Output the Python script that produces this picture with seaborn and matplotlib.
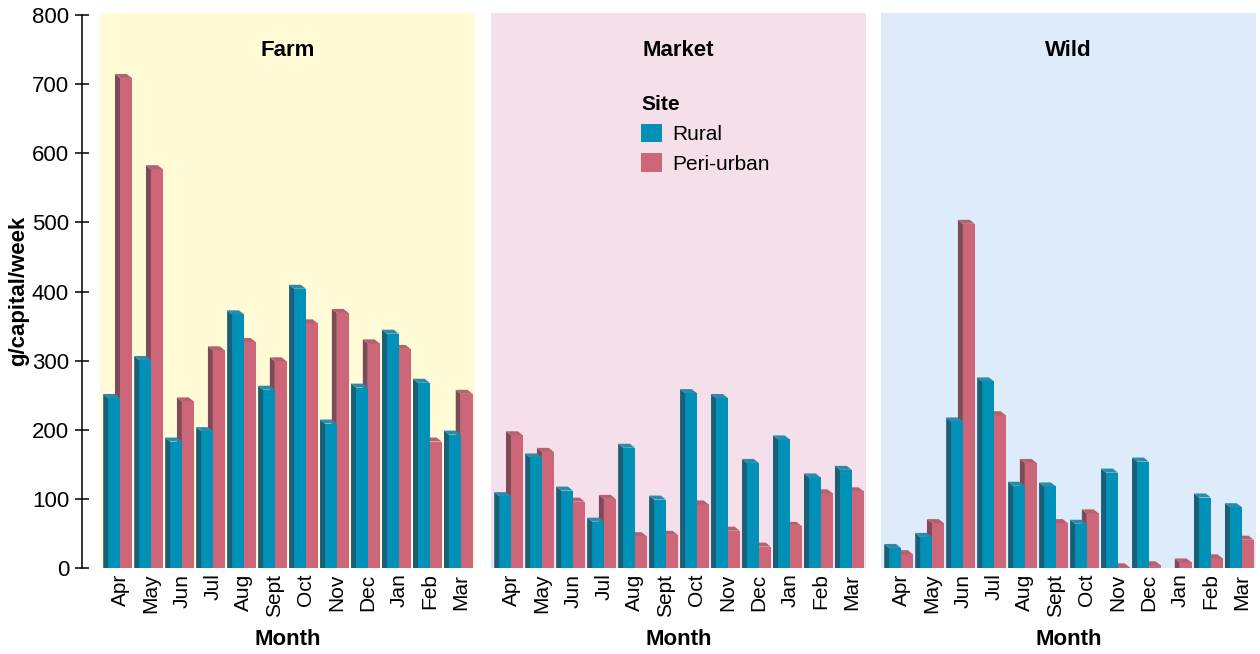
import numpy as np
import pandas as pd
import matplotlib
matplotlib.use("Agg")
import matplotlib.pyplot as plt
import seaborn as sns
from matplotlib.patches import Polygon, Patch

# ---- data (g/capital/week) ----
months = ["Apr", "May", "Jun", "Jul", "Aug", "Sept", "Oct", "Nov", "Dec", "Jan", "Feb", "Mar"]
sites = ["Rural", "Peri-urban"]
sources = ["Farm", "Market", "Wild"]

farm_rural = [246, 301, 183, 198, 367, 258, 404, 209, 261, 339, 268, 193]
farm_peri = [709, 577, 241, 315, 327, 299, 354, 369, 325, 317, 183, 252]
market_rural = [104, 160, 112, 67, 174, 99, 253, 246, 152, 186, 131, 142]
market_peri = [192, 168, 96, 100, 46, 48, 92, 54, 31, 61, 108, 111]
wild_rural = [29, 45, 212, 270, 119, 118, 64, 138, 154, 0, 102, 88]
wild_peri = [20, 65, 498, 221, 152, 65, 79, 1, 4, 8, 14, 41]

series = {
    "Farm": (farm_rural, farm_peri),
    "Market": (market_rural, market_peri),
    "Wild": (wild_rural, wild_peri),
}

rows = []
for src, (rur, peri) in series.items():
    for m, r, p in zip(months, rur, peri):
        rows.append((src, m, "Rural", r))
        rows.append((src, m, "Peri-urban", p))
df = pd.DataFrame(rows, columns=["Source", "Month", "Site", "value"])

# ---- style ----
sns.set_theme(style="white")
plt.rcParams["font.family"] = ["Liberation Sans", "DejaVu Sans"]
for key in ["text.color", "axes.labelcolor", "xtick.color", "ytick.color"]:
    plt.rcParams[key] = "black"

front = {"Rural": "#0091B9", "Peri-urban": "#CC6678"}
side = {"Rural": "#1A5F75", "Peri-urban": "#7E4A57"}
cap = {"Rural": "#2A8CAA", "Peri-urban": "#B3626F"}
backgrounds = ["#FFFBD6", "#F4DFEA", "#DDEBFA"]

W, H = 1260, 654
fig = plt.figure(figsize=(W / 100, H / 100), dpi=100)
panels_px = [(100, 475), (491, 866), (881, 1256)]
top_px, bottom_px = 13, 568
ylim = (0, 803)
xlim = (-0.645, 11.46)
depth_px = (5.0, 4.0)  # back-face shift: left, up

axes = []
for i, (src, (l, r)) in enumerate(zip(sources, panels_px)):
    ax = fig.add_axes([l / W, (H - bottom_px) / H, (r - l) / W, (bottom_px - top_px) / H])
    ax.set_facecolor(backgrounds[i])
    sns.barplot(data=df[df["Source"] == src], x="Month", y="value", hue="Site",
                order=months, hue_order=sites, palette=front, width=0.76,
                saturation=1, linewidth=0, legend=False, ax=ax)
    ax.set_xlim(*xlim)
    ax.set_ylim(*ylim)

    # extruded look: dark left side and a shaded top on every bar
    dx = depth_px[0] * (xlim[1] - xlim[0]) / (r - l)
    dy = depth_px[1] * (ylim[1] - ylim[0]) / (bottom_px - top_px)
    for k, site in enumerate(sites):
        z = 3 if site == "Rural" else 2
        for bar in ax.containers[k]:
            bar.set_zorder(z)
            x0, w, h = bar.get_x(), bar.get_width(), bar.get_height()
            if not np.isfinite(h) or h <= 0:
                continue
            ax.add_patch(Polygon([(x0, 0), (x0, h), (x0 - dx, h + dy), (x0 - dx, 0)],
                                 closed=True, facecolor=side[site], edgecolor="none", zorder=z))
            ax.add_patch(Polygon([(x0, h), (x0 + w, h), (x0 + w - dx, h + dy), (x0 - dx, h + dy)],
                                 closed=True, facecolor=cap[site], edgecolor="none", zorder=z))

    for sp in ax.spines.values():
        sp.set_visible(False)
    ax.tick_params(axis="x", length=0, pad=4, labelsize=15, labelrotation=90)
    ax.set_xlabel("Month", fontsize=16, fontweight="bold", labelpad=9)
    ax.text(0.5, 0.933, src, transform=ax.transAxes, ha="center", va="center",
            fontsize=16, fontweight="bold")
    if i == 0:
        ax.spines["left"].set_visible(True)
        ax.spines["left"].set_position(("outward", 13))
        ax.spines["left"].set_bounds(0, 800)
        ax.spines["left"].set_color("black")
        ax.spines["left"].set_linewidth(1.1)
        ax.set_yticks(range(0, 801, 100))
        ax.tick_params(axis="y", left=True, direction="inout", length=10, width=1.1,
                       pad=4.3, labelsize=16)
        ax.set_ylabel("g/capital/week", fontsize=16, fontweight="bold", labelpad=2)
    else:
        ax.set_yticks([])
        ax.set_ylabel("")
    axes.append(ax)

handles = [Patch(facecolor=front[s], edgecolor="none") for s in sites]
leg = axes[1].legend(handles, sites, title="Site", loc="upper left",
                     bbox_to_anchor=(0.4, 0.852), frameon=False, fontsize=15,
                     title_fontproperties={"weight": "bold", "size": 15},
                     handlelength=1.0, handleheight=1.0, handletextpad=0.5,
                     labelspacing=0.45, borderpad=0, borderaxespad=0,
                     alignment="left")

fig.savefig("out.png", dpi=100)
